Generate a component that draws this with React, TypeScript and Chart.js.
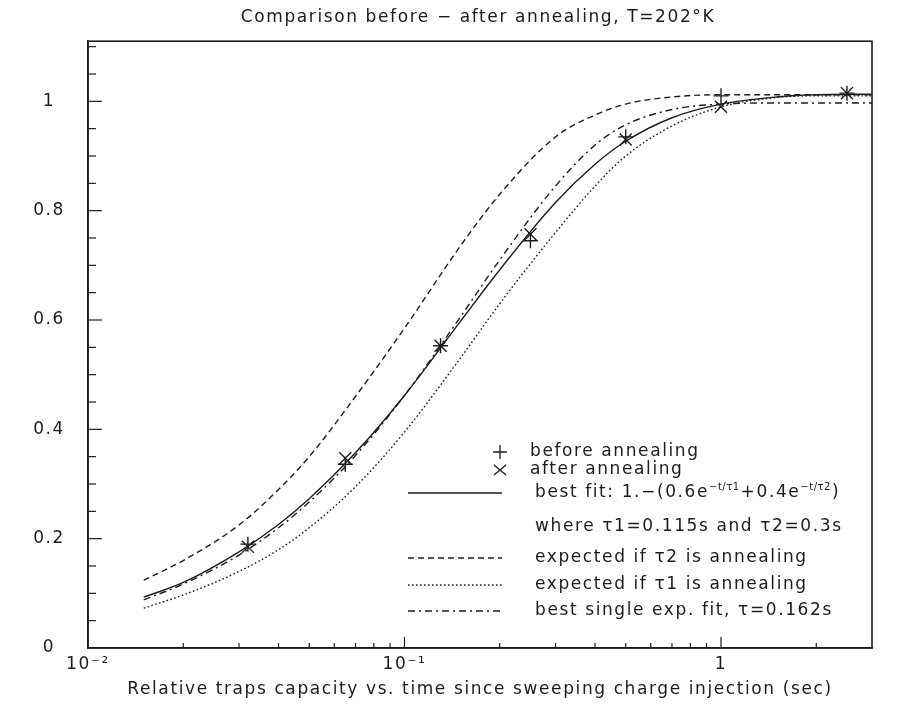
import React, { useEffect, useRef } from "react";
import { Chart, registerables } from "chart.js";

Chart.register(...registerables);

// ---- data ----
const curveT = [0.015, 0.02, 0.03, 0.04, 0.05, 0.07, 0.1, 0.15, 0.2, 0.3, 0.4, 0.5, 0.7, 1, 1.5, 2, 3];
const bestFit = [0.093, 0.12, 0.176, 0.226, 0.273, 0.357, 0.462, 0.597, 0.692, 0.815, 0.885, 0.927, 0.97, 0.995, 1.008, 1.012, 1.013];
const tau2Annealing = [0.124, 0.16, 0.225, 0.29, 0.35, 0.46, 0.585, 0.735, 0.83, 0.935, 0.975, 0.995, 1.008, 1.012, 1.012, 1.012, 1.012];
const tau1Annealing = [0.073, 0.097, 0.14, 0.18, 0.22, 0.295, 0.395, 0.53, 0.63, 0.76, 0.845, 0.9, 0.955, 0.99, 1.007, 1.01, 1.01];
const singleExp = [0.088, 0.117, 0.17, 0.22, 0.267, 0.352, 0.462, 0.605, 0.71, 0.845, 0.92, 0.957, 0.985, 0.995, 0.997, 0.997, 0.997];

const measT = [0.032, 0.065, 0.13, 0.25, 0.5, 1.0, 2.5];
const beforeAnnealing = [0.19, 0.336, 0.553, 0.745, 0.935, 1.01, 1.015];
const afterAnnealing = [0.185, 0.347, 0.553, 0.757, 0.93, 0.99, 1.015];

const xMin = 0.01;
const xMax = 3;
const yMin = 0;
const yMax = 1.11;
const xTickValues = [0.01, 0.1, 1];
const xTickLabels = ["10\u207B\u00B2", "10\u207B\u00B9", "1"];
const yTickValues = [0, 0.2, 0.4, 0.6, 0.8, 1];
const yTickLabels = ["0", "0.2", "0.4", "0.6", "0.8", "1"];

const titleText = "Comparison before \u2212 after annealing, T=202\u00B0K";
const xAxisTitle = "Relative traps capacity vs. time since sweeping charge injection (sec)";
const legendBefore = "before annealing";
const legendAfter = "after annealing";
const legendFitA = "best fit: 1.\u2212(0.6e";
const legendFitSup1 = "\u2212t/\u03C41";
const legendFitB = "+0.4e";
const legendFitSup2 = "\u2212t/\u03C42";
const legendFitC = ")";
const legendWhere = "where \u03C41=0.115s and \u03C42=0.3s";
const legendTau2 = "expected if \u03C42 is annealing";
const legendTau1 = "expected if \u03C41 is annealing";
const legendSingle = "best single exp. fit, \u03C4=0.162s";

const INK = "#1c1c1c";
const FONT = '"DejaVu Sans", sans-serif';
const FSIZE = 17;
const SPACING = "1.6px";

const DASHED = [6, 4];
const DOTTED = [1.6, 2.4];
const DASHDOT = [7, 4, 2, 4];

function drawLegendLine(ctx: CanvasRenderingContext2D, x0: number, x1: number, y: number, dash: number[]) {
  ctx.save();
  ctx.setLineDash(dash);
  ctx.lineWidth = 1.4;
  ctx.strokeStyle = INK;
  ctx.beginPath();
  ctx.moveTo(x0, y);
  ctx.lineTo(x1, y);
  ctx.stroke();
  ctx.restore();
}

const decorPlugin = {
  id: "decor",
  beforeLayout(chart: any) {
    (chart.ctx as any).letterSpacing = SPACING;
  },
  beforeDraw(chart: any) {
    (chart.ctx as any).letterSpacing = SPACING;
  },
  afterDatasetsDraw(chart: any) {
    const ctx: CanvasRenderingContext2D = chart.ctx;
    const { left, right, top, bottom } = chart.chartArea;
    const xs = chart.scales.x;
    const ys = chart.scales.y;
    ctx.save();
    (ctx as any).letterSpacing = SPACING;
    ctx.strokeStyle = INK;
    ctx.setLineDash([]);
    // frame
    ctx.lineWidth = 1.6;
    ctx.strokeRect(left, top, right - left, bottom - top);
    // inward y ticks every 0.05
    ctx.lineWidth = 1.2;
    for (let i = 1; i * 0.05 <= yMax + 1e-9; i++) {
      const py = ys.getPixelForValue(i * 0.05);
      const len = i % 4 === 0 ? 14 : 8;
      ctx.beginPath();
      ctx.moveTo(left, py);
      ctx.lineTo(left + len, py);
      ctx.stroke();
    }
    // inward x ticks (log minor)
    for (const dec of [0.01, 0.1, 1]) {
      for (let m = 1; m <= 9; m++) {
        const v = m * dec;
        if (v <= xMin * 1.0001 || v >= xMax * 0.9999) continue;
        const px = xs.getPixelForValue(v);
        const len = m === 1 ? 11 : 5;
        ctx.beginPath();
        ctx.moveTo(px, bottom);
        ctx.lineTo(px, bottom - len);
        ctx.stroke();
      }
    }
    // title
    ctx.fillStyle = INK;
    ctx.font = `${FSIZE}px ${FONT}`;
    ctx.textAlign = "center";
    ctx.textBaseline = "middle";
    ctx.fillText(titleText, 470, 10);

    // legend
    const symX = 492;
    const lineX0 = 400;
    const lineX1 = 494;
    const textX1 = 522;
    const textX2 = 527;
    const rows = [444, 462, 485, 519, 550, 577, 603];
    ctx.textAlign = "left";
    ctx.textBaseline = "middle";
    ctx.font = `${FSIZE}px ${FONT}`;
    // plus
    ctx.lineWidth = 1.3;
    ctx.beginPath();
    ctx.moveTo(symX - 7, rows[0]);
    ctx.lineTo(symX + 7, rows[0]);
    ctx.moveTo(symX, rows[0] - 7);
    ctx.lineTo(symX, rows[0] + 7);
    ctx.stroke();
    ctx.fillText(legendBefore, textX1, rows[0]);
    // cross
    ctx.beginPath();
    ctx.moveTo(symX - 6, rows[1] - 5);
    ctx.lineTo(symX + 6, rows[1] + 5);
    ctx.moveTo(symX - 6, rows[1] + 5);
    ctx.lineTo(symX + 6, rows[1] - 5);
    ctx.stroke();
    ctx.fillText(legendAfter, textX1, rows[1]);
    // best fit
    drawLegendLine(ctx, lineX0, lineX1, rows[2], []);
    let cx = textX2;
    const parts: [string, boolean][] = [
      [legendFitA, false],
      [legendFitSup1, true],
      [legendFitB, false],
      [legendFitSup2, true],
      [legendFitC, false],
    ];
    for (const [txt, sup] of parts) {
      if (sup) {
        ctx.font = `10px ${FONT}`;
        (ctx as any).letterSpacing = "0.5px";
        ctx.fillText(txt, cx, rows[2] - 6);
        cx += ctx.measureText(txt).width + 1;
        (ctx as any).letterSpacing = SPACING;
        ctx.font = `${FSIZE}px ${FONT}`;
      } else {
        ctx.fillText(txt, cx, rows[2]);
        cx += ctx.measureText(txt).width;
      }
    }
    ctx.fillText(legendWhere, textX2, rows[3]);
    drawLegendLine(ctx, lineX0, lineX1, rows[4], DASHED);
    ctx.fillText(legendTau2, textX2, rows[4]);
    drawLegendLine(ctx, lineX0, lineX1, rows[5], DOTTED);
    ctx.fillText(legendTau1, textX2, rows[5]);
    drawLegendLine(ctx, lineX0, lineX1, rows[6], DASHDOT);
    ctx.fillText(legendSingle, textX2, rows[6]);
    ctx.restore();
  },
};

function curve(label: string, values: number[], dash: number[]) {
  return {
    label,
    data: curveT.map((t, i) => ({ x: t, y: values[i] })),
    borderColor: INK,
    borderWidth: 1.4,
    borderDash: dash,
    pointRadius: 0,
    cubicInterpolationMode: "monotone" as const,
    fill: false,
    showLine: true,
  };
}

function points(label: string, values: number[], style: string, radius: number) {
  return {
    label,
    data: measT.map((t, i) => ({ x: t, y: values[i] })),
    showLine: false,
    pointStyle: style,
    pointRadius: radius,
    pointBorderColor: INK,
    pointBorderWidth: 1.4,
    borderColor: INK,
    backgroundColor: INK,
  };
}

export default function App() {
  const ref = useRef<HTMLCanvasElement | null>(null);
  useEffect(() => {
    if (!ref.current) return;
    Chart.defaults.font.family = FONT;
    Chart.defaults.color = INK;
    const chart = new Chart(ref.current, {
      type: "line",
      data: {
        datasets: [
          curve("best fit", bestFit, []),
          curve("expected if tau2 is annealing", tau2Annealing, DASHED),
          curve("expected if tau1 is annealing", tau1Annealing, DOTTED),
          curve("best single exp. fit", singleExp, DASHDOT),
          points("before annealing", beforeAnnealing, "cross", 7.5),
          points("after annealing", afterAnnealing, "crossRot", 8.5),
        ] as any,
      },
      options: {
        animation: false,
        responsive: true,
        maintainAspectRatio: false,
        layout: { padding: { left: 0, right: 17, top: 27, bottom: 0 } },
        plugins: {
          legend: { display: false },
          title: { display: false },
          tooltip: { enabled: false },
        },
        scales: {
          x: {
            type: "logarithmic",
            min: xMin,
            max: xMax,
            grid: { display: false, drawTicks: false },
            border: { display: true, color: INK, width: 1.6 },
            afterBuildTicks: (scale: any) => {
              scale.ticks = xTickValues.map((v) => ({ value: v }));
            },
            afterFit: (scale: any) => {
              scale.height = 54;
            },
            ticks: {
              autoSkip: false,
              maxRotation: 0,
              padding: 6,
              color: INK,
              font: { size: FSIZE, family: FONT },
              callback: (v: any) => {
                const i = xTickValues.findIndex((t) => Math.abs(t - Number(v)) < 1e-9);
                return i >= 0 ? xTickLabels[i] : "";
              },
            },
            title: {
              display: true,
              text: xAxisTitle,
              color: INK,
              font: { size: FSIZE, family: FONT },
              padding: { top: 0, bottom: 2 },
            },
          },
          y: {
            type: "linear",
            min: yMin,
            max: yMax,
            grid: { display: false, drawTicks: false },
            border: { display: true, color: INK, width: 1.6 },
            afterBuildTicks: (scale: any) => {
              scale.ticks = yTickValues.map((v) => ({ value: v }));
            },
            afterFit: (scale: any) => {
              scale.width = 80;
            },
            ticks: {
              autoSkip: false,
              padding: 23,
              crossAlign: "center",
              color: INK,
              font: { size: FSIZE, family: FONT },
              callback: (v: any) => {
                const i = yTickValues.findIndex((t) => Math.abs(t - Number(v)) < 1e-9);
                return i >= 0 ? yTickLabels[i] : "";
              },
            },
          },
        },
      },
      plugins: [decorPlugin],
    });
    return () => chart.destroy();
  }, []);
  return (
    <div style={{ width: 881, height: 694, position: "relative", background: "#fff" }}>
      <canvas ref={ref} />
    </div>
  );
}
